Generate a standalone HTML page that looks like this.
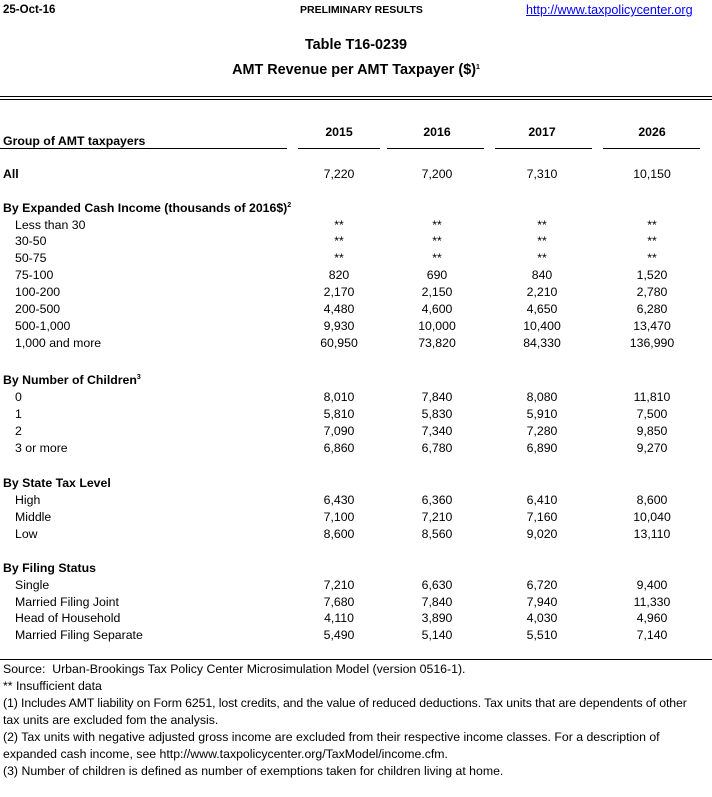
<!DOCTYPE html>
<html><head><meta charset="utf-8"><style>
body{margin:0;width:712px;height:797px;background:#fff;position:relative;font-family:"Liberation Sans",sans-serif;font-size:12.3px;color:#000;overflow:hidden}
.t{position:absolute;white-space:nowrap;line-height:14px}
.b{font-weight:bold}
.c{position:absolute;white-space:nowrap;line-height:14px;width:80px;text-align:center}
.l{position:absolute;background:#000}
sup{font-size:7px;vertical-align:5px;line-height:0}
</style></head><body>
<div class="t b" style="left:3px;top:3px;font-size:11.5px">25-Oct-16</div>
<div class="t b" style="left:300px;top:3px;font-size:10.5px">PRELIMINARY RESULTS</div>
<div class="t" style="left:526px;top:3px;color:#00f;text-decoration:underline;font-size:12.6px">http://www.taxpolicycenter.org</div>
<div class="t b" style="left:0;width:712px;text-align:center;top:38px;font-size:14.4px">Table T16-0239</div>
<div class="t b" style="left:0;width:712px;text-align:center;top:63px;font-size:14.4px">AMT Revenue per AMT Taxpayer ($)<sup>1</sup></div>
<div class="l" style="left:0;top:96px;width:712px;height:1px"></div>
<div class="l" style="left:0;top:99px;width:712px;height:1px"></div>
<div class="t b" style="left:3px;top:134px">Group of AMT taxpayers</div>
<div class="c b" style="left:299px;top:125px">2015</div>
<div class="c b" style="left:397px;top:125px">2016</div>
<div class="c b" style="left:502px;top:125px">2017</div>
<div class="c b" style="left:612px;top:125px">2026</div>
<div class="l" style="left:0;top:148px;width:287px;height:1px"></div>
<div class="l" style="left:298px;top:148px;width:82px;height:1px"></div>
<div class="l" style="left:387px;top:148px;width:97px;height:1px"></div>
<div class="l" style="left:495px;top:148px;width:97px;height:1px"></div>
<div class="l" style="left:603px;top:148px;width:97px;height:1px"></div>
<div id="rows"></div>
<div class="l" style="left:0;top:659px;width:712px;height:1px"></div>
<div class="t" style="left:3px;top:662px">Source:&nbsp; Urban-Brookings Tax Policy Center Microsimulation Model (version 0516-1).</div>
<div class="t" style="left:3px;top:679px">** Insufficient data</div>
<div class="t" style="left:3px;top:696px;letter-spacing:-0.1px">(1) Includes AMT liability on Form 6251, lost credits, and the value of reduced deductions. Tax units that are dependents of other</div>
<div class="t" style="left:3px;top:713px">tax units are excluded fom the analysis.</div>
<div class="t" style="left:3px;top:730px">(2) Tax units with negative adjusted gross income are excluded from their respective income classes. For a description of</div>
<div class="t" style="left:3px;top:747px">expanded cash income, see http://www.taxpolicycenter.org/TaxModel/income.cfm.</div>
<div class="t" style="left:3px;top:764px">(3) Number of children is defined as number of exemptions taken for children living at home.</div>
<script>
var R=[
[174,0,"All",["7,220","7,200","7,310","10,150"],1],
[208,0,"By Expanded Cash Income (thousands of 2016$)<sup>2</sup>",null,1],
[225,1,"Less than 30",["**","**","**","**"]],
[241,1,"30-50",["**","**","**","**"]],
[258,1,"50-75",["**","**","**","**"]],
[275,1,"75-100",["820","690","840","1,520"]],
[292,1,"100-200",["2,170","2,150","2,210","2,780"]],
[309,1,"200-500",["4,480","4,600","4,650","6,280"]],
[326,1,"500-1,000",["9,930","10,000","10,400","13,470"]],
[343,1,"1,000 and more",["60,950","73,820","84,330","136,990"]],
[380,0,"By Number of Children<sup>3</sup>",null,1],
[397,1,"0",["8,010","7,840","8,080","11,810"]],
[414,1,"1",["5,810","5,830","5,910","7,500"]],
[431,1,"2",["7,090","7,340","7,280","9,850"]],
[448,1,"3 or more",["6,860","6,780","6,890","9,270"]],
[483,0,"By State Tax Level",null,1],
[500,1,"High",["6,430","6,360","6,410","8,600"]],
[517,1,"Middle",["7,100","7,210","7,160","10,040"]],
[534,1,"Low",["8,600","8,560","9,020","13,110"]],
[568,0,"By Filing Status",null,1],
[585,1,"Single",["7,210","6,630","6,720","9,400"]],
[602,1,"Married Filing Joint",["7,680","7,840","7,940","11,330"]],
[618,1,"Head of Household",["4,110","3,890","4,030","4,960"]],
[635,1,"Married Filing Separate",["5,490","5,140","5,510","7,140"]]];
var X=[299,397,502,612],h="";
R.forEach(function(r){var y=r[0]-7;
h+='<div class="t'+(r[4]?' b':'')+'" style="left:'+(r[1]?15:3)+'px;top:'+y+'px">'+r[2]+'</div>';
if(r[3])r[3].forEach(function(v,i){h+='<div class="c" style="left:'+X[i]+'px;top:'+y+'px">'+v+'</div>';});});
document.getElementById("rows").innerHTML=h;
</script>
</body></html>
